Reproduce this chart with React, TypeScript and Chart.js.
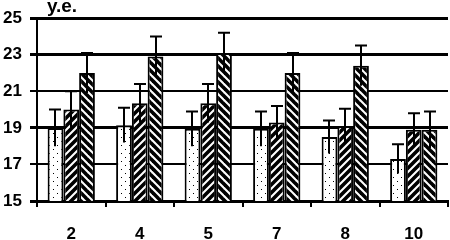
import React, { useEffect, useRef } from "react";
import { Chart, registerables } from "chart.js";

Chart.register(...registerables);

const categories = ["2", "4", "5", "7", "8", "10"];
const seriesA = [19.0, 19.15, 18.95, 18.95, 18.5, 17.3];
const seriesB = [20.0, 20.35, 20.35, 19.3, 19.1, 18.9];
const seriesC = [22.0, 22.9, 23.1, 22.0, 22.4, 18.9];
const errA = [1.0, 0.95, 0.95, 0.95, 0.9, 0.8];
const errB = [1.0, 1.05, 1.05, 0.9, 0.95, 0.9];
const errC = [1.1, 1.1, 1.1, 1.1, 1.1, 1.0];
const unitLabel = "у.е.";
const FONT = "'Liberation Sans', Arial, sans-serif";

function makeDots(): CanvasPattern | string {
  const c = document.createElement("canvas");
  c.width = 8;
  c.height = 8;
  const g = c.getContext("2d");
  if (!g) return "#fff";
  g.fillStyle = "#fff";
  g.fillRect(0, 0, 8, 8);
  g.fillStyle = "#000";
  g.fillRect(1, 1, 1, 1);
  g.fillRect(5, 5, 1, 1);
  return g.createPattern(c, "repeat") || "#fff";
}

function makeStripes(forward: boolean): CanvasPattern | string {
  const s = 8;
  const c = document.createElement("canvas");
  c.width = s;
  c.height = s;
  const g = c.getContext("2d");
  if (!g) return "#fff";
  g.fillStyle = "#fff";
  g.fillRect(0, 0, s, s);
  g.strokeStyle = "#000";
  g.lineWidth = 3.6;
  g.lineCap = "square";
  for (let k = -1; k <= 1; k++) {
    g.beginPath();
    if (forward) {
      g.moveTo(-2 + k * s, s + 2);
      g.lineTo(s + 2 + k * s, -2);
    } else {
      g.moveTo(-2 + k * s, -2);
      g.lineTo(s + 2 + k * s, s + 2);
    }
    g.stroke();
  }
  return g.createPattern(c, "repeat") || "#fff";
}

export default function App() {
  const ref = useRef<HTMLCanvasElement | null>(null);

  useEffect(() => {
    if (!ref.current) return;
    const errs = [errA, errB, errC];

    const errorBars = {
      id: "errorBars",
      afterDatasetsDraw(chart: any) {
        const ctx = chart.ctx;
        const y = chart.scales.y;
        chart.data.datasets.forEach((ds: any, i: number) => {
          const meta = chart.getDatasetMeta(i);
          meta.data.forEach((bar: any, j: number) => {
            const v = ds.data[j];
            const e = errs[i][j];
            const yt = y.getPixelForValue(v + e);
            const yb = y.getPixelForValue(v - e);
            const x = Math.round(bar.x);
            ctx.save();
            ctx.strokeStyle = "#000";
            ctx.lineWidth = 2;
            ctx.beginPath();
            ctx.moveTo(x, yb);
            ctx.lineTo(x, yt);
            ctx.moveTo(x - 6, yt);
            ctx.lineTo(x + 6, yt);
            ctx.stroke();
            ctx.restore();
          });
        });
      },
    };

    const unitText = {
      id: "unitText",
      afterDraw(chart: any) {
        const ctx = chart.ctx;
        ctx.save();
        ctx.fillStyle = "#000";
        ctx.font = `bold 19px ${FONT}`;
        ctx.textBaseline = "alphabetic";
        ctx.textAlign = "left";
        ctx.fillText(unitLabel, 47, 12);
        ctx.restore();
      },
    };

    const chart = new Chart(ref.current, {
      type: "bar",
      data: {
        labels: categories,
        datasets: [
          {
            data: seriesA,
            backgroundColor: makeDots() as any,
            borderColor: "#000",
            borderWidth: 2,
            borderSkipped: false,
          },
          {
            data: seriesB,
            backgroundColor: makeStripes(true) as any,
            borderColor: "#000",
            borderWidth: 2,
            borderSkipped: false,
          },
          {
            data: seriesC,
            backgroundColor: makeStripes(false) as any,
            borderColor: "#000",
            borderWidth: 2,
            borderSkipped: false,
          },
        ],
      },
      options: {
        animation: false,
        responsive: false,
        maintainAspectRatio: false,
        layout: { padding: { top: 18, right: 2, left: 0, bottom: 0 } },
        plugins: {
          legend: { display: false },
          tooltip: { enabled: false },
        },
        datasets: {
          bar: { categoryPercentage: 0.69, barPercentage: 1 },
        },
        scales: {
          x: {
            grid: {
              display: true,
              drawOnChartArea: false,
              drawTicks: true,
              tickLength: 6,
              color: "#000",
              lineWidth: 2,
              offset: true,
            },
            border: { display: true, color: "#000", width: 3 },
            ticks: {
              color: "#000",
              font: { family: FONT, size: 17, weight: "bold" },
              padding: 17,
            },
            afterFit(axis: any) {
              axis.height = 39;
            },
          },
          y: {
            min: 15,
            max: 25,
            ticks: {
              stepSize: 2,
              color: "#000",
              font: { family: FONT, size: 17, weight: "bold" },
              padding: 8,
            },
            grid: {
              color: "#000",
              tickLength: 7,
              lineWidth: (c: any) =>
                c.tick && [15, 19, 23, 25].includes(c.tick.value) ? 3 : 2,
            },
            border: { display: true, color: "#000", width: 2 },
            afterFit(axis: any) {
              axis.width = 37;
            },
          },
        },
      },
      plugins: [errorBars, unitText],
    });
    return () => chart.destroy();
  }, []);

  return (
    <div style={{ position: "fixed", left: 0, top: 0, width: 450, height: 240, background: "#fff" }}>
      <canvas ref={ref} width={450} height={240} style={{ display: "block", width: 450, height: 240 }} />
    </div>
  );
}
